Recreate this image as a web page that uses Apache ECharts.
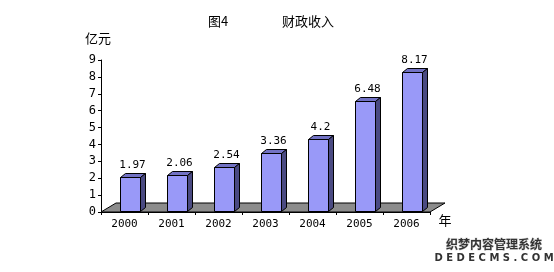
<!DOCTYPE html>
<html>
<head>
<meta charset="utf-8">
<script src="https://cdn.jsdelivr.net/npm/echarts@6/dist/echarts.min.js"></script>
<style>
  html, body { margin: 0; padding: 0; background: #fff; }
  #chart { width: 554px; height: 272px; }
</style>
</head>
<body>
<div id="chart"></div>
<script>
// --- data ---
var years   = ['2000', '2001', '2002', '2003', '2004', '2005', '2006'];
var revenue = [1.97, 2.06, 2.54, 3.36, 4.2, 6.48, 8.17];
var yTicks  = [0, 1, 2, 3, 4, 5, 6, 7, 8, 9];

var DEPTH_X = 5, DEPTH_Y = -4;      // bar 3d offset
var FLOOR_X = 15, FLOOR_Y = -9;     // floor depth
var NUM_FONT = 'DejaVu Sans Mono';
var CJK_FONT = 'Noto Sans CJK SC';

function renderFloor(params, api) {
  var cs = params.coordSys;
  var x0 = cs.x, x1 = cs.x + cs.width, y0 = cs.y + cs.height;
  return {
    type: 'polygon',
    shape: { points: [[x0, y0], [x1, y0], [x1 + FLOOR_X, y0 + FLOOR_Y], [x0 + FLOOR_X, y0 + FLOOR_Y]] },
    style: { fill: '#8c8c8c', stroke: '#000', lineWidth: 1 }
  };
}

function renderBar(params, api) {
  var idx = api.value(0), v = api.value(1);
  var top = api.coord([idx, v]);
  var base = api.coord([idx, 0]);
  var cx = top[0] + 5, hw = 10;
  var yt = Math.round(top[1]) - 1.5, yb = Math.round(base[1]) - 0.5;
  var xl = Math.round(cx - hw) + 0.5, xr = Math.round(cx + hw) + 0.5;
  var line = { stroke: '#000', lineWidth: 1 };
  return {
    type: 'group',
    children: [
      { type: 'rect', shape: { x: xl, y: yt, width: xr - xl, height: yb - yt },
        style: Object.assign({ fill: '#9999f8' }, line) },
      { type: 'polygon',
        shape: { points: [[xl, yt], [xr, yt], [xr + DEPTH_X, yt + DEPTH_Y], [xl + DEPTH_X, yt + DEPTH_Y]] },
        style: Object.assign({ fill: '#7272c4' }, line) },
      { type: 'polygon',
        shape: { points: [[xr, yt], [xr + DEPTH_X, yt + DEPTH_Y], [xr + DEPTH_X, yb + DEPTH_Y], [xr, yb]] },
        style: Object.assign({ fill: '#4a4a82' }, line) },
      { type: 'text', x: cx + 3, y: yt + DEPTH_Y - 3,
        style: { text: String(revenue[idx]), fill: '#000', font: '11px "' + NUM_FONT + '"',
                 textAlign: 'center', textVerticalAlign: 'bottom' } }
    ]
  };
}

var chart = echarts.init(document.getElementById('chart'));
chart.setOption({
  animation: false,
  backgroundColor: '#fff',
  grid: { left: 101, right: 124, top: 60, bottom: 60 },
  xAxis: {
    type: 'category', data: years,
    axisLine: { show: true, lineStyle: { color: '#000', width: 1 } },
    axisTick: { show: true, length: 3, lineStyle: { color: '#000' } },
    axisLabel: { color: '#000', fontFamily: NUM_FONT, fontSize: 11, margin: 7 }
  },
  yAxis: {
    type: 'value', min: 0, max: 9, interval: 1,
    axisLine: { show: true, lineStyle: { color: '#000', width: 1 } },
    axisTick: { show: true, length: 3, lineStyle: { color: '#000' } },
    splitLine: { show: false },
    axisLabel: { color: '#000', fontFamily: NUM_FONT, fontSize: 12, margin: 5,
                 customValues: yTicks }
  },
  graphic: [
    { type: 'text', x: 218, y: 21, style: { text: '图4', font: '13px "' + CJK_FONT + '"', fill: '#000', textAlign: 'center', textVerticalAlign: 'middle' } },
    { type: 'text', x: 308, y: 21, style: { text: '财政收入', font: '13px "' + CJK_FONT + '"', fill: '#000', textAlign: 'center', textVerticalAlign: 'middle' } },
    { type: 'text', x: 98, y: 38, style: { text: '亿元', font: '13px "' + CJK_FONT + '"', fill: '#000', textAlign: 'center', textVerticalAlign: 'middle' } },
    { type: 'text', x: 445, y: 220, style: { text: '年', font: '13px "' + CJK_FONT + '"', fill: '#000', textAlign: 'center', textVerticalAlign: 'middle' } },
    { type: 'text', x: 494, y: 244, style: { text: '织梦内容管理系统', font: 'bold 12px "' + CJK_FONT + '"', fill: '#333', stroke: '#ddd', lineWidth: 1, textAlign: 'center', textVerticalAlign: 'middle' } },
    { type: 'text', x: 494, y: 258, style: { text: 'D E D E C M S . C O M', font: 'bold 10px "DejaVu Sans"', fill: '#333', textAlign: 'center', textVerticalAlign: 'middle' } }
  ],
  series: [
    { type: 'custom', renderItem: renderFloor, data: [[0]], z: 1, silent: true },
    { type: 'custom', renderItem: renderBar, data: revenue.map(function (v, i) { return [i, v]; }),
      encode: { x: 0, y: 1 }, z: 2 }
  ]
});
</script>
</body>
</html>
